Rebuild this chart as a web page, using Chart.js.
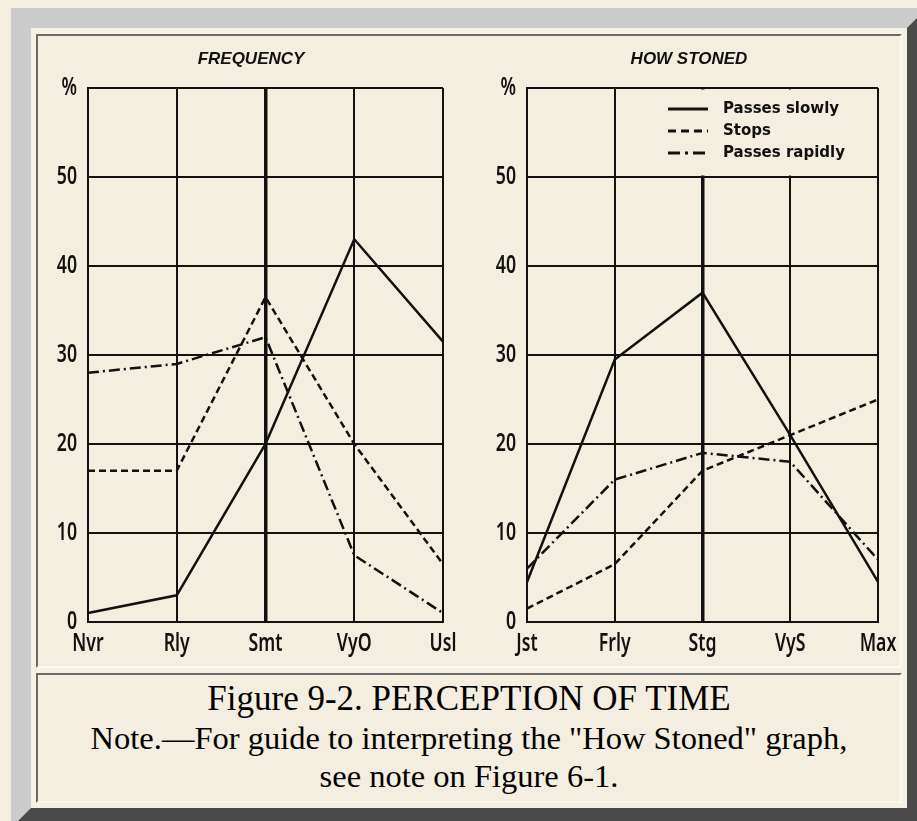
<!DOCTYPE html>
<html>
<head>
<meta charset="utf-8">
<script src="https://cdn.jsdelivr.net/npm/chart.js@4/dist/chart.umd.min.js"></script>
<style>
  html, body { margin:0; padding:0; }
  body { width:917px; height:821px; overflow:hidden; background:#f4eee0; position:relative; }
  #frame { position:absolute; left:11px; top:8px; width:876px; height:780px;
           border-style:solid; border-width:20px;
           border-top-color:#cbcbcb; border-left-color:#cbcbcb;
           border-right-color:#4a4a4a; border-bottom-color:#4a4a4a; background:#f6f1e5; }
  .cell { position:absolute; box-sizing:border-box; border-style:solid; border-width:2px;
          border-top-color:#6a6a6a; border-left-color:#6a6a6a;
          border-right-color:#fbf8f0; border-bottom-color:#fbf8f0; background:#f4eee0; }
  #chartCell { left:36px; top:34px; width:866px; height:634px; }
  #capCell { left:36px; top:673px; width:866px; height:130px;
             font-family:"Liberation Serif","Times New Roman",serif;
             text-align:center; color:#000; padding-top:4px; }
  #capCell .l1 { font-size:35px; height:40px; line-height:40px; white-space:nowrap; }
  #capCell .l2 { font-size:32.5px; height:38px; line-height:38px; white-space:nowrap; }
  .cv { position:absolute; top:36px; height:630px; }
  #c1 { left:36px; width:430px; }
  #c2 { left:477px; width:424px; }
</style>
</head>
<body>
<div id="frame"></div>
<div id="chartCell" class="cell"></div>
<div id="capCell" class="cell">
  <div class="l1">Figure 9-2. PERCEPTION OF TIME</div>
  <div class="l2">Note.—For guide to interpreting the "How Stoned" graph,</div>
  <div class="l2">see note on Figure 6-1.</div>
</div>
<div class="cv" id="c1"><canvas id="freq"></canvas></div>
<div class="cv" id="c2"><canvas id="stoned"></canvas></div>
<script>
// ---- data ----
const freqCategories   = ['Nvr', 'Rly', 'Smt', 'VyO', 'Usl'];
const stonedCategories = ['Jst', 'Frly', 'Stg', 'VyS', 'Max'];
const seriesNames      = ['Passes slowly', 'Stops', 'Passes rapidly'];
const freqSlowly    = [1, 3, 20, 43, 31.5];
const freqStops     = [17, 17, 36.5, 20, 6.5];
const freqRapidly   = [28, 29, 32, 7.5, 1];
const stonedSlowly  = [4.5, 29.5, 37, 21, 4.5];
const stonedStops   = [1.5, 6.5, 17, 21, 25];
const stonedRapidly = [6, 16, 19, 18, 7];
const yTickLabels   = ['0', '10', '20', '30', '40', '50', '%'];

// ---- styles ----
const INK = '#111';
const BG = '#f4eee0';
const dashes = [[], [7, 4], [11, 4, 2, 4]];
const labelFont = { family: '"Noto Sans", "DejaVu Sans", sans-serif', size: 26, weight: '600' };
const SQUEEZE = 0.68; // horizontal condensing of axis labels (narrow typeface look)

// condensed look for axis tick labels: uses fillText's maxWidth argument
const condensePlugin = {
  id: 'condense',
  beforeDraw(chart) {
    const ctx = chart.ctx;
    if (ctx.__condensed) return;
    const orig = ctx.fillText;
    ctx.__condensed = true;
    ctx.fillText = function (t, x, y, mw) {
      if (mw === undefined && this.font.indexOf('Noto Sans') >= 0) {
        return orig.call(this, t, x, y, this.measureText(t).width * SQUEEZE);
      }
      return mw === undefined ? orig.call(this, t, x, y) : orig.call(this, t, x, y, mw);
    };
  }
};

function makeDatasets(values) {
  return values.map((v, i) => ({
    label: seriesNames[i],
    data: v,
    borderColor: INK,
    borderWidth: 2.5,
    borderDash: dashes[i],
    pointRadius: 0,
    fill: false,
    tension: 0,
    yAxisID: 'y'
  }));
}

const legendPlugin = {
  id: 'insideLegend',
  beforeDatasetsDraw(chart, args, opts) {
    if (!opts || !opts.show) return;
    const a = chart.chartArea, xs = chart.scales.x, ys = chart.scales.y;
    const ctx = chart.ctx;
    ctx.save();
    ctx.fillStyle = BG;
    const x0 = xs.getPixelForValue(1) + 2;
    ctx.fillRect(x0, a.top - 4, a.right - 1.5 - x0, 4);
    ctx.fillRect(x0, a.top + 1.5, a.right - 1.5 - x0, ys.getPixelForValue(50) - 1.5 - (a.top + 1.5));
    ctx.restore();
    // redraw the top border line over the cleared strip
    ctx.save();
    ctx.strokeStyle = INK; ctx.lineWidth = 2;
    ctx.beginPath(); ctx.moveTo(x0 - 2, a.top); ctx.lineTo(a.right, a.top); ctx.stroke();
    ctx.restore();
  },
  afterDatasetsDraw(chart, args, opts) {
    if (!opts || !opts.show) return;
    const a = chart.chartArea, ctx = chart.ctx;
    ctx.save();
    chart.data.datasets.forEach((ds, i) => {
      const y = a.top + 21 + i * 22;
      ctx.beginPath();
      ctx.setLineDash(ds.borderDash.length ? ds.borderDash.map(d => d + 1) : []);
      ctx.lineWidth = 3;
      ctx.strokeStyle = INK;
      ctx.moveTo(a.right - 210, y);
      ctx.lineTo(a.right - 170, y);
      ctx.stroke();
      ctx.setLineDash([]);
      ctx.fillStyle = INK;
      ctx.font = 'bold 15px "DejaVu Sans", sans-serif';
      ctx.textBaseline = 'middle';
      ctx.textAlign = 'left';
      ctx.fillText(ds.label, a.right - 155, y);
    });
    ctx.restore();
  }
};

function makeChart(id, title, cats, values, yAxisW, thickIdx, showLegend) {
  return new Chart(document.getElementById(id), {
    type: 'line',
    data: { labels: cats, datasets: makeDatasets(values) },
    plugins: [condensePlugin, legendPlugin],
    options: {
      responsive: true,
      maintainAspectRatio: false,
      animation: false,
      layout: { padding: 0 },
      plugins: {
        legend: { display: false },
        tooltip: { enabled: false },
        title: {
          display: true, text: title, color: INK,
          font: { family: '"Liberation Sans", Arial, sans-serif', size: 17, style: 'italic', weight: 'bold' },
          padding: { top: 13, bottom: 18.6 }
        },
        insideLegend: { show: showLegend }
      },
      scales: {
        x: {
          type: 'category',
          offset: false,
          afterFit(s) { s.height = 44; s.paddingLeft = 0; s.paddingRight = 0; },
          grid: { color: INK, lineWidth: c => (c.index === thickIdx ? 3.5 : 2), drawTicks: false },
          border: { display: true, color: INK, width: 2 },
          ticks: { color: INK, font: labelFont, padding: 6, maxRotation: 0, autoSkip: false }
        },
        y: {
          min: 0, max: 60,
          afterFit(s) { s.width = yAxisW; s.paddingTop = 0; s.paddingBottom = 0; },
          grid: { color: INK, lineWidth: 2, drawTicks: false },
          border: { display: true, color: INK, width: 2 },
          ticks: { stepSize: 10, color: INK, font: labelFont, padding: 11,
                   callback: v => yTickLabels[Math.round(v / 10)] }
        },
        yRight: {
          position: 'right', min: 0, max: 60,
          afterFit(s) { s.width = 23; s.paddingTop = 0; s.paddingBottom = 0; },
          grid: { display: false, drawTicks: false },
          border: { display: false },
          ticks: { display: false }
        }
      }
    }
  });
}

makeChart('freq', 'FREQUENCY', freqCategories, [freqSlowly, freqStops, freqRapidly], 52, 2, false);
makeChart('stoned', 'HOW STONED', stonedCategories, [stonedSlowly, stonedStops, stonedRapidly], 50, 2, true);
</script>
</body>
</html>
